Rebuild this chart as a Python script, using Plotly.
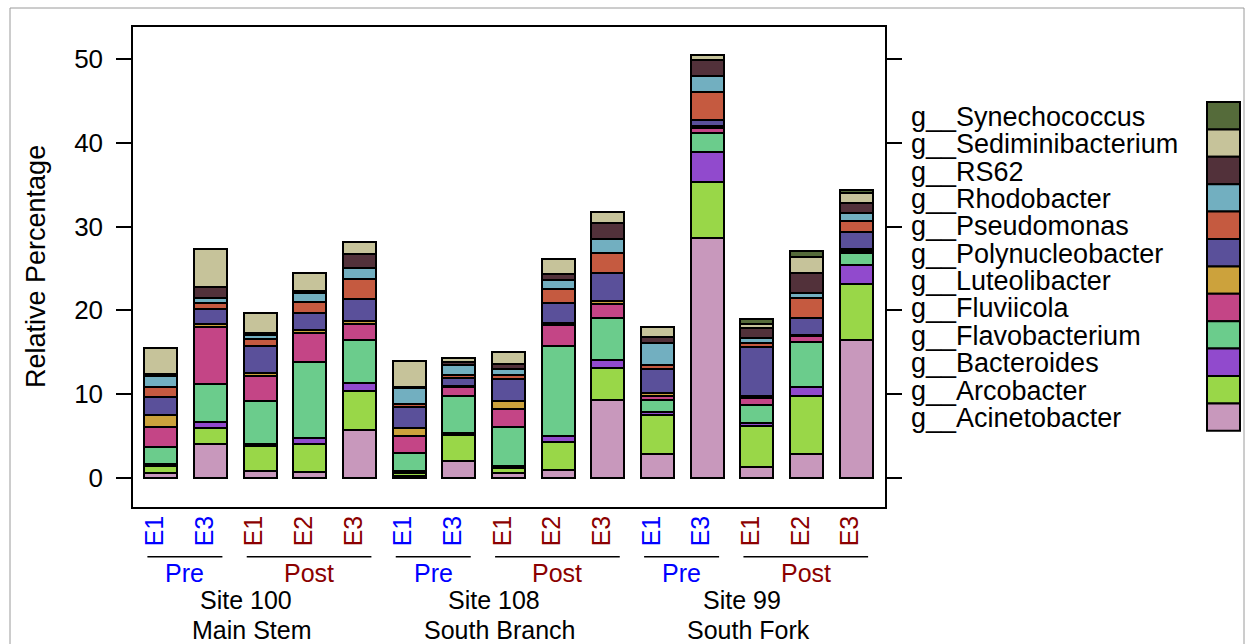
import plotly.graph_objects as go

# ---- data -------------------------------------------------------------
events = ["E1", "E3", "E1", "E2", "E3",
          "E1", "E3", "E1", "E2", "E3",
          "E1", "E3", "E1", "E2", "E3"]
phases = ["Pre", "Pre", "Post", "Post", "Post",
          "Pre", "Pre", "Post", "Post", "Post",
          "Pre", "Pre", "Post", "Post", "Post"]
sites = ["Site 100", "Site 108", "Site 99"]
reaches = ["Main Stem", "South Branch", "South Fork"]

acinetobacter = [0.55, 4.06, 0.87, 0.75, 5.73, 0.28, 2.03, 0.64, 0.95, 9.31, 2.90, 28.60, 1.35, 2.86, 16.47]
arcobacter = [0.92, 1.87, 2.95, 3.31, 4.65, 0.35, 3.10, 0.59, 3.31, 3.82, 4.62, 6.77, 4.85, 6.93, 6.72]
bacteroides = [0.16, 0.71, 0.24, 0.71, 0.92, 0.20, 0.28, 0.24, 0.75, 0.95, 0.39, 3.46, 0.32, 1.11, 2.23]
flavobacterium = [2.11, 4.58, 5.13, 9.03, 5.17, 2.10, 4.38, 4.62, 10.74, 5.01, 1.36, 2.32, 2.19, 5.29, 1.39]
fluviicola = [2.39, 6.84, 2.98, 3.54, 1.91, 2.07, 1.03, 2.14, 2.51, 1.64, 0.52, 0.65, 0.80, 0.76, 0.32]
luteolibacter = [1.39, 0.28, 0.32, 0.32, 0.39, 0.92, 0.20, 0.96, 0.27, 0.39, 0.31, 0.20, 0.28, 0.11, 0.16]
polynucleobacter = [2.18, 1.86, 3.30, 2.07, 2.59, 2.50, 0.91, 2.66, 2.39, 3.34, 2.90, 0.72, 5.81, 2.07, 2.10]
pseudomonas = [1.20, 0.72, 0.80, 1.23, 2.42, 0.36, 0.32, 0.40, 1.59, 2.43, 0.44, 3.38, 0.47, 2.31, 1.28]
rhodobacter = [1.27, 0.56, 0.47, 1.08, 1.24, 1.91, 1.23, 0.75, 1.12, 1.63, 2.63, 1.80, 0.67, 0.60, 0.92]
rs62 = [0.23, 1.35, 0.28, 0.31, 1.67, 0.20, 0.32, 0.60, 0.67, 1.95, 0.80, 1.98, 1.12, 2.38, 1.19]
sediminibacterium = [3.15, 4.46, 2.31, 2.07, 1.43, 3.10, 0.56, 1.40, 1.87, 1.23, 1.19, 0.56, 0.48, 1.99, 1.27]
synechococcus = [0, 0, 0, 0, 0, 0, 0, 0, 0, 0, 0, 0, 0.67, 0.68, 0.32]

# stacking order, bottom to top
genera = ["g__Acinetobacter", "g__Arcobacter", "g__Bacteroides", "g__Flavobacterium",
          "g__Fluviicola", "g__Luteolibacter", "g__Polynucleobacter", "g__Pseudomonas",
          "g__Rhodobacter", "g__RS62", "g__Sediminibacterium", "g__Synechococcus"]
series = [acinetobacter, arcobacter, bacteroides, flavobacterium, fluviicola,
          luteolibacter, polynucleobacter, pseudomonas, rhodobacter, rs62,
          sediminibacterium, synechococcus]
colors = ["#C898BC", "#99D748", "#914ACD", "#6BCC8C", "#C44586", "#CCA23C",
          "#5A509A", "#C55A40", "#72AFC0", "#52313A", "#C6C39A", "#556B3A"]

phase_colors = {"Pre": "#0000FF", "Post": "#8B0000"}
FONT = "Liberation Sans, Arial, sans-serif"

# ---- figure -----------------------------------------------------------
W, H = 1247, 644
ML, MR, MT, MB = 133, 362, 27, 137
PW, PH = W - ML - MR, H - MT - MB

def px_x(p):
    return (p - ML) / PW

def px_y(p):
    return (H - MB - p) / PH

positions = list(range(1, len(events) + 1))

fig = go.Figure()
for name, vals, col in zip(genera, series, colors):
    fig.add_trace(go.Bar(
        x=positions, y=vals, name=name, width=0.67,
        marker=dict(color=col, line=dict(color="black", width=2)),
        showlegend=False,
    ))

ticktext = [f'<span style="color:{phase_colors[p]}">{e}</span>' for e, p in zip(events, phases)]
# rotated labels sit a little left of each bar centre
label_pos = [p - 0.12 for p in positions]

annotations = []
shapes = []

# phase underlines and labels
runs = []
start = 0
for i in range(1, len(phases) + 1):
    if i == len(phases) or phases[i] != phases[start]:
        runs.append((start, i - 1, phases[start]))
        start = i
line_y = px_y(556.7)
for a, b, ph in runs:
    x0, x1 = positions[a] - 0.27, positions[b] + 0.24
    shapes.append(dict(type="line", xref="x", yref="paper", x0=x0, x1=x1,
                       y0=line_y, y1=line_y, line=dict(color="black", width=1.5)))
    annotations.append(dict(x=(x0 + x1) / 2, y=px_y(573), xref="x", yref="paper",
                            text=ph, showarrow=False, xanchor="center", yanchor="middle",
                            font=dict(family=FONT, size=25, color=phase_colors[ph])))

# site / reach labels under each group of five bars
for k, (s, r) in enumerate(zip(sites, reaches)):
    mid = positions[k * 5 + 2]
    annotations.append(dict(x=mid - 0.29, y=px_y(600), xref="x", yref="paper", text=s,
                            showarrow=False, xanchor="center", yanchor="middle",
                            font=dict(family=FONT, size=25, color="black")))
    annotations.append(dict(x=mid - 0.17, y=px_y(630), xref="x", yref="paper", text=r,
                            showarrow=False, xanchor="center", yanchor="middle",
                            font=dict(family=FONT, size=25, color="black")))

# y-axis title
annotations.append(dict(x=px_x(36), y=px_y(267), xref="paper", yref="paper",
                        text="Relative Percentage", textangle=-90, showarrow=False,
                        xanchor="center", yanchor="middle",
                        font=dict(family=FONT, size=27, color="black")))

# key: labels on the left, colour boxes stacked on the right (top = last stacked)
box_top, box_h = 102, 27.4
for j, (name, col) in enumerate(zip(genera[::-1], colors[::-1])):
    y0p = box_top + j * box_h
    shapes.append(dict(type="rect", xref="paper", yref="paper",
                       x0=px_x(1207), x1=px_x(1240), y0=px_y(y0p + box_h), y1=px_y(y0p),
                       fillcolor=col, line=dict(color="black", width=2)))
    annotations.append(dict(x=px_x(909), y=px_y(y0p + box_h / 2 + 1), xref="paper", yref="paper",
                            text=name, showarrow=False, xanchor="left", yanchor="middle",
                            font=dict(family=FONT, size=27, color="black")))

# outer frame
shapes.append(dict(type="rect", xref="paper", yref="paper", layer="below",
                   x0=px_x(10), x1=px_x(1244), y0=px_y(660), y1=px_y(8),
                   line=dict(color="#9a9a9a", width=1), fillcolor="rgba(0,0,0,0)"))

fig.update_layout(
    width=W, height=H, autosize=False,
    margin=dict(l=ML, r=MR, t=MT, b=MB, pad=0),
    barmode="stack",
    plot_bgcolor="white", paper_bgcolor="white",
    font=dict(family=FONT, color="black"),
    annotations=annotations, shapes=shapes,
    xaxis=dict(range=[0.44, 15.58], tickmode="array", tickvals=label_pos, ticktext=ticktext,
               tickangle=-90, ticks="", showgrid=False, zeroline=False,
               showline=True, linecolor="black", linewidth=1.5, mirror=True,
               tickfont=dict(family=FONT, size=25), ticklabelstandoff=-3),
    yaxis=dict(range=[-3.46, 53.8], tickmode="array", tickvals=[0, 10, 20, 30, 40, 50],
               ticks="outside", ticklen=15, tickwidth=1.5, tickcolor="black",
               showgrid=False, zeroline=False, showline=True, linecolor="black",
               linewidth=1.5, mirror="ticks", tickfont=dict(family=FONT, size=26),
               ticklabelstandoff=8),
)

fig.write_html("out.html")
